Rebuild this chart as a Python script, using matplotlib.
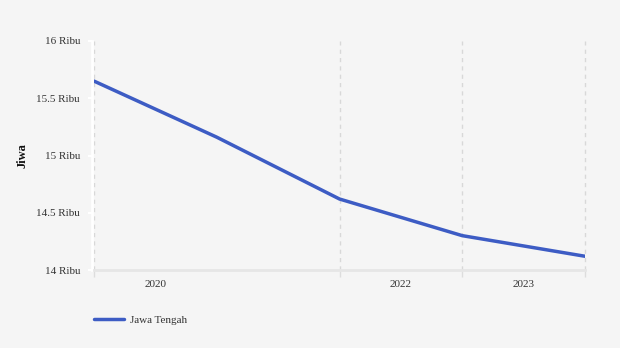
import matplotlib.pyplot as plt
from matplotlib.ticker import FixedLocator

# data
x_pos = [0, 1, 2, 3, 4]
jawa_tengah = [15650, 15160, 14620, 14300, 14120]
grid_pos = [0, 2, 3, 4]
label_pos = [0.5, 2.5, 3.5]
year_labels = ["2020", "2022", "2023"]
y_ticks = [14000, 14500, 15000, 15500, 16000]
y_labels = ["14 Ribu", "14.5 Ribu", "15 Ribu", "15.5 Ribu", "16 Ribu"]

plt.rcParams['font.family'] = ['Liberation Serif', 'DejaVu Serif']

bg = "#f5f5f5"
fig = plt.figure(figsize=(6.2, 3.48), dpi=100, facecolor=bg)
ax = fig.add_axes([94 / 620, 78 / 348, 491 / 620, 229 / 348], facecolor=bg)

line, = ax.plot(x_pos, jawa_tengah, color="#3d5cc4", lw=2.5, solid_capstyle="round")

ax.set_xlim(0, 4)
ax.set_ylim(14000, 16000)

ax.xaxis.set_major_locator(FixedLocator(grid_pos))
ax.xaxis.set_minor_locator(FixedLocator(label_pos))
ax.set_xticklabels([])
ax.set_xticklabels(year_labels, minor=True)
ax.tick_params(axis="x", which="major", length=5, width=1, color="#dddddd")
ax.tick_params(axis="x", which="minor", length=0, pad=7, labelsize=8, labelcolor="#333333")
ax.grid(axis="x", which="major", color="#d8d8d8", ls=(0, (3, 3)), lw=1)
for gl in ax.get_xgridlines():
    gl.set_clip_on(False)

ax.set_yticks(y_ticks)
ax.set_yticklabels(y_labels)
ax.tick_params(axis="y", length=3, width=1.5, color="white", labelsize=8,
               labelcolor="#333333", pad=5.5)
ax.set_ylabel("Jiwa", fontsize=9, fontweight="bold", color="#111111")
ax.yaxis.set_label_coords(-66 / 491, 0.5)

for s in ["top", "right"]:
    ax.spines[s].set_visible(False)
ax.spines["left"].set_color("white")
ax.spines["left"].set_linewidth(2)
ax.spines["left"].set_position(("outward", 1.5))
ax.spines["bottom"].set_color("#e6e6e6")
ax.spines["bottom"].set_linewidth(2)

fig.legend([line], ["Jawa Tengah"], loc="center left", bbox_to_anchor=(84 / 620, 1 - 320 / 348),
           frameon=False, fontsize=8, handlelength=2.7, handletextpad=0.5,
           labelcolor="#333333")

fig.savefig("out.png", dpi=100, facecolor=bg)
